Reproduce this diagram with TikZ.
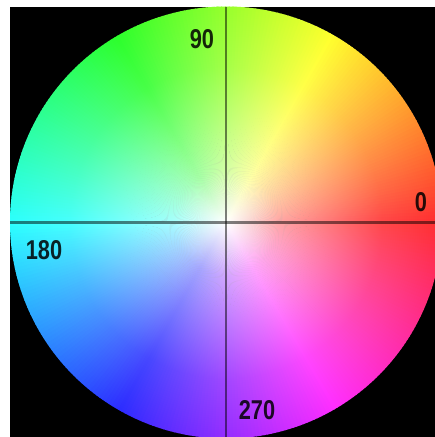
\documentclass[tikz,border=0pt]{standalone}
\usepackage{fontspec}
\setmainfont{Liberation Sans}
\usetikzlibrary{fadings}
\tikzstyle{crossline}=[draw=black, opacity=0.5, line width=1.7pt]
\tikzstyle{anglelabel}=[inner sep=0pt, text=black, text opacity=0.85, font=\fontsize{15.5}{16}\selectfont\bfseries]

\pgfdeclareradialshading{wheelshade}{\pgfpointorigin}{color(0bp)=(pgftransparent!0); color(6bp)=(pgftransparent!35); color(18bp)=(pgftransparent!72); color(36bp)=(pgftransparent!100); color(50bp)=(pgftransparent!100)}
\pgfdeclarefading{wheelfade}{\pgfuseshading{wheelshade}}

\begin{document}
\begin{tikzpicture}[x=0.02cm, y=0.02cm]
				\useasboundingbox (0,0) rectangle (435,437);
				\fill[white] (0,0) rectangle (435,437);
				\fill[black] (10,0) rectangle (435,430);

				\coordinate (ctr) at (226,214.5);
				\coordinate (left) at (10,214.5);
				\coordinate (right) at (435,214.5);
				\coordinate (top) at (226,430);
				\coordinate (bottom) at (226,0);

				\begin{scope}
					\clip (10,0) rectangle (435,430);
					% hue wedges
					\foreach \h in {0,...,359} {
						\definecolor{huecol}{Hsb}{\h,1,1}
						\fill[huecol] (ctr) -- ++(\h:216) arc[start angle=\h, end angle=\h+1.3, radius=216] -- cycle;
					}
					% white towards the middle
					\fill[white, path fading=wheelfade] (ctr) circle[radius=216];
				\end{scope}

				\draw[crossline] (left) -- (right);
				\draw[crossline] (top) -- (bottom);

				\node[anglelabel] (l0) at (421,235) {\scalebox{0.8}[1]{0}};
				\node[anglelabel] (l90) at (202,398) {\scalebox{0.8}[1]{90}};
				\node[anglelabel] (l180) at (44,187) {\scalebox{0.8}[1]{180}};
				\node[anglelabel] (l270) at (257,27) {\scalebox{0.8}[1]{270}};
			\end{tikzpicture}
\end{document}
